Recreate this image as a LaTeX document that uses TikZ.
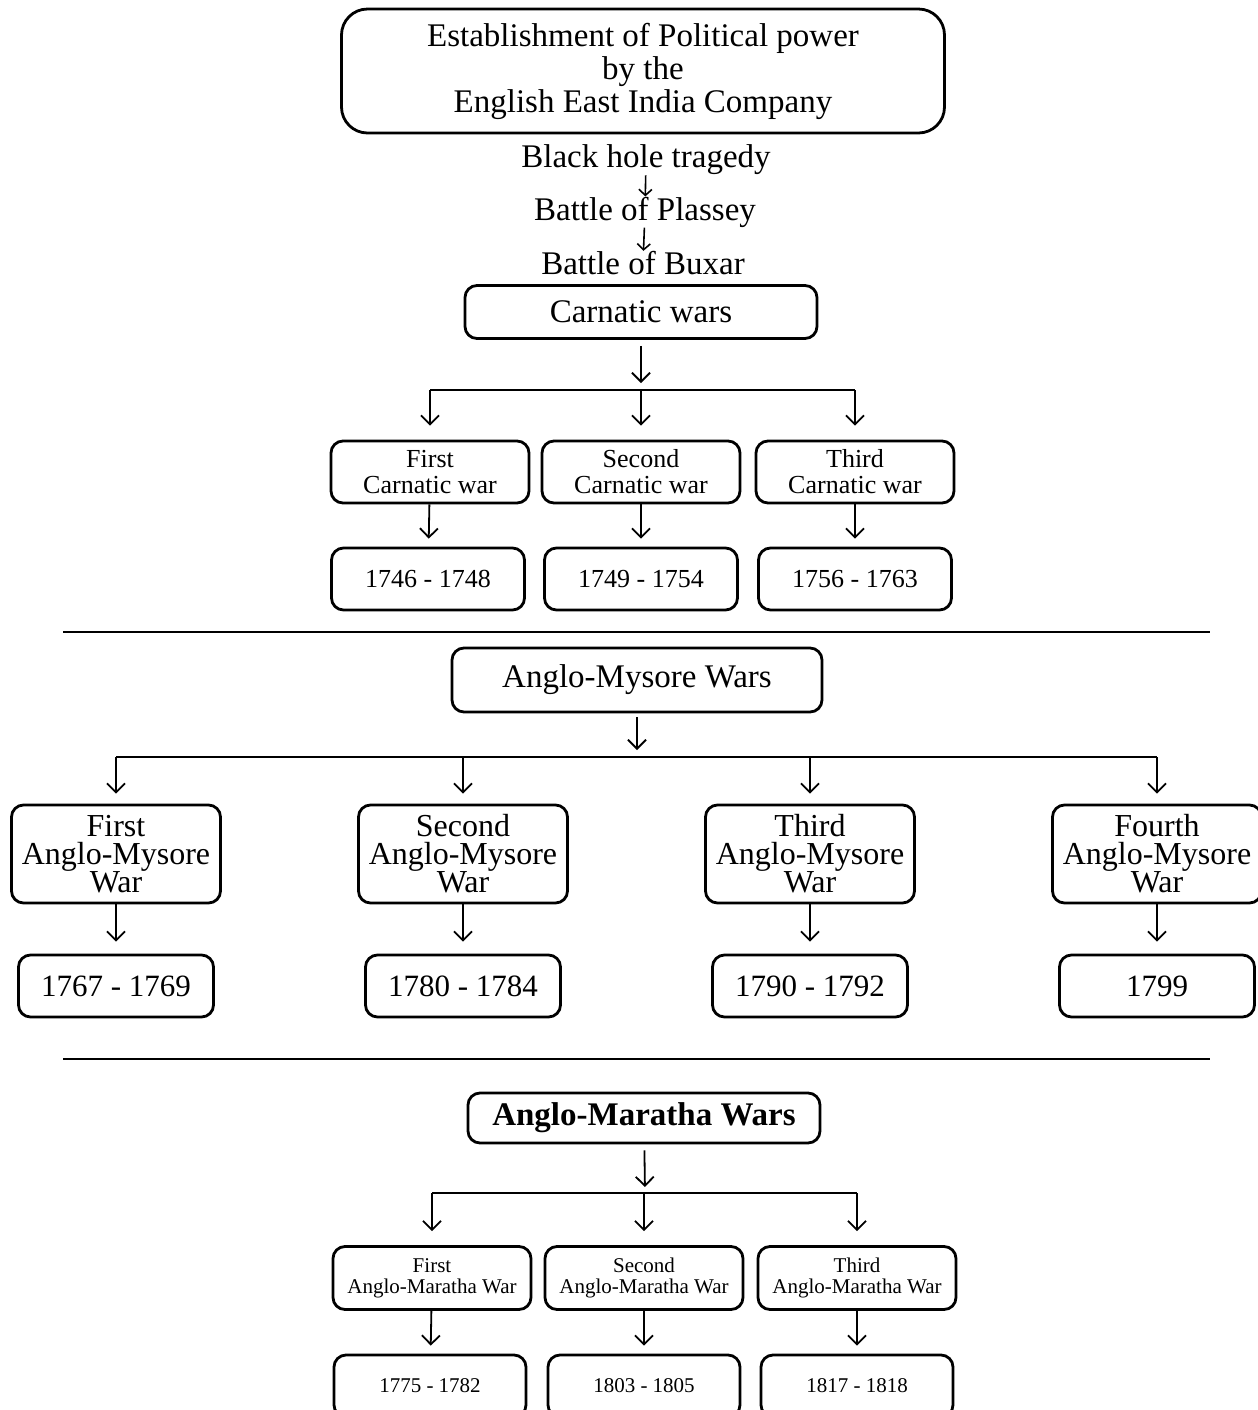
\documentclass[tikz,border=0pt]{standalone}
\usepackage{fontspec}
\setmainfont{Liberation Serif}
\usetikzlibrary{arrows.meta, positioning}
\tikzset{
  box/.style={
    draw,
    line width=1.4pt,
    rounded corners=6pt,
    align=center,
    inner sep=0pt
  },
  headbox/.style={
    box,
    rounded corners=13pt,
    minimum width=301.5pt,
    minimum height=62pt,
    font=\fontsize{16.5}{16.5}\selectfont
  },
  titlebox/.style={
    box,
    font=\fontsize{16.5}{18}\selectfont
  },
  smallbox/.style={
    box,
    minimum width=99pt,
    minimum height=31pt,
    font=\fontsize{13}{13}\selectfont
  },
  bigbox/.style={
    box,
    minimum width=104.5pt,
    minimum height=49pt,
    font=\fontsize{16}{14}\selectfont
  },
  bigdate/.style={
    box,
    minimum width=97.5pt,
    minimum height=31pt,
    font=\fontsize{15.5}{15.5}\selectfont
  },
  tinybox/.style={
    box,
    minimum width=99pt,
    minimum height=31.5pt,
    font=\fontsize{10.5}{10.5}\selectfont
  },
  plain/.style={
    inner sep=0pt,
    font=\fontsize{16.5}{16.5}\selectfont
  },
  arr/.style={
    -{Straight Barb[length=4.5pt,width=9pt]},
    line width=0.9pt
  },
  sarr/.style={
    -{Straight Barb[length=3pt,width=6.5pt]},
    line width=0.8pt
  },
  bar/.style={line width=0.9pt},
  rule/.style={line width=1pt}
}

\begin{document}
\begin{tikzpicture}[x=0.5pt, y=-0.5pt]
  \useasboundingbox (0,0) rectangle (1258,1410);

  % heading and battles
  \node[headbox] (top) at (643, 71) {Establishment of Political power\\ by the\\ English East India Company};
  \node[plain] (black) at (646, 160) {Black hole tragedy};
  \node[plain] (plassey) at (645, 212) {Battle of Plassey};
  \node[plain] (buxar) at (643, 263) {Battle of Buxar};
  \path (black) edge[sarr] (plassey)
        (plassey) edge[sarr] (buxar);

  % Carnatic wars
  \node[titlebox, minimum width=176pt, minimum height=26.5pt] (carn) at (641, 312) {Carnatic wars};
  \coordinate (cbar) at (641, 390);
  \node[smallbox] (cw1) at (430, 472) {First\\ Carnatic war};
  \node[smallbox] (cw2) at (641, 472) {Second\\ Carnatic war};
  \node[smallbox] (cw3) at (855, 472) {Third\\ Carnatic war};
  \node[smallbox, minimum width=96.5pt] (cd1) at (428, 579) {1746 - 1748};
  \node[smallbox, minimum width=96.5pt] (cd2) at (641, 579) {1749 - 1754};
  \node[smallbox, minimum width=96.5pt] (cd3) at (855, 579) {1756 - 1763};
  \draw[bar] (cw1 |- cbar) -- (cw3 |- cbar);
  \path (carn) edge[arr, shorten <=3pt, shorten >=3.5pt] (cbar)
        (cw1 |- cbar) edge[arr, shorten >=7pt] (cw1)
        (cw2 |- cbar) edge[arr, shorten >=7pt] (cw2)
        (cw3 |- cbar) edge[arr, shorten >=7pt] (cw3)
        (cw1) edge[arr, shorten >=4pt] (cd1)
        (cw2) edge[arr, shorten >=4pt] (cd2)
        (cw3) edge[arr, shorten >=4pt] (cd3);

  \draw[rule] (63, 632) -- (1210, 632);

  % Anglo-Mysore wars
  \node[titlebox, minimum width=185pt, minimum height=32pt] (mys) at (637, 680) {Anglo-Mysore Wars};
  \coordinate (mbar) at (637, 757);
  \node[bigbox] (mw1) at (116, 854) {First\\ Anglo-Mysore\\ War};
  \node[bigbox] (mw2) at (463, 854) {Second\\ Anglo-Mysore\\ War};
  \node[bigbox] (mw3) at (810, 854) {Third\\ Anglo-Mysore\\ War};
  \node[bigbox] (mw4) at (1157, 854) {Fourth\\ Anglo-Mysore\\ War};
  \node[bigdate] (md1) at (116, 986) {1767 - 1769};
  \node[bigdate] (md2) at (463, 986) {1780 - 1784};
  \node[bigdate] (md3) at (810, 986) {1790 - 1792};
  \node[bigdate] (md4) at (1157, 986) {1799};
  \draw[bar] (mw1 |- mbar) -- (mw4 |- mbar);
  \path (mys) edge[arr, shorten <=2pt, shorten >=3.5pt] (mbar)
        (mw1 |- mbar) edge[arr, shorten >=5pt] (mw1)
        (mw2 |- mbar) edge[arr, shorten >=5pt] (mw2)
        (mw3 |- mbar) edge[arr, shorten >=5pt] (mw3)
        (mw4 |- mbar) edge[arr, shorten >=5pt] (mw4)
        (mw1) edge[arr, shorten >=6pt] (md1)
        (mw2) edge[arr, shorten >=6pt] (md2)
        (mw3) edge[arr, shorten >=6pt] (md3)
        (mw4) edge[arr, shorten >=6pt] (md4);

  \draw[rule] (63, 1059) -- (1210, 1059);

  % Anglo-Maratha wars
  \node[titlebox, font=\fontsize{16.5}{18}\selectfont\bfseries, minimum width=176pt, minimum height=25pt] (mar) at (644, 1118) {Anglo-Maratha Wars};
  \coordinate (abar) at (645, 1193);
  \node[tinybox] (aw1) at (432, 1278) {First\\ Anglo-Maratha War};
  \node[tinybox] (aw2) at (644, 1278) {Second\\ Anglo-Maratha War};
  \node[tinybox] (aw3) at (857, 1278) {Third\\ Anglo-Maratha War};
  \node[tinybox, minimum width=96pt, minimum height=31pt] (ad1) at (430, 1386) {1775 - 1782};
  \node[tinybox, minimum width=96pt, minimum height=31pt] (ad2) at (644, 1386) {1803 - 1805};
  \node[tinybox, minimum width=96pt, minimum height=31pt] (ad3) at (857, 1386) {1817 - 1818};
  \draw[bar] (aw1 |- abar) -- (aw3 |- abar);
  \path (mar) edge[arr, shorten <=3pt, shorten >=3pt] (abar)
        (aw1 |- abar) edge[arr, shorten >=7pt] (aw1)
        (aw2 |- abar) edge[arr, shorten >=7pt] (aw2)
        (aw3 |- abar) edge[arr, shorten >=7pt] (aw3)
        (aw1) edge[arr, shorten >=4pt] (ad1)
        (aw2) edge[arr, shorten >=4pt] (ad2)
        (aw3) edge[arr, shorten >=4pt] (ad3);
\end{tikzpicture}
\end{document}
